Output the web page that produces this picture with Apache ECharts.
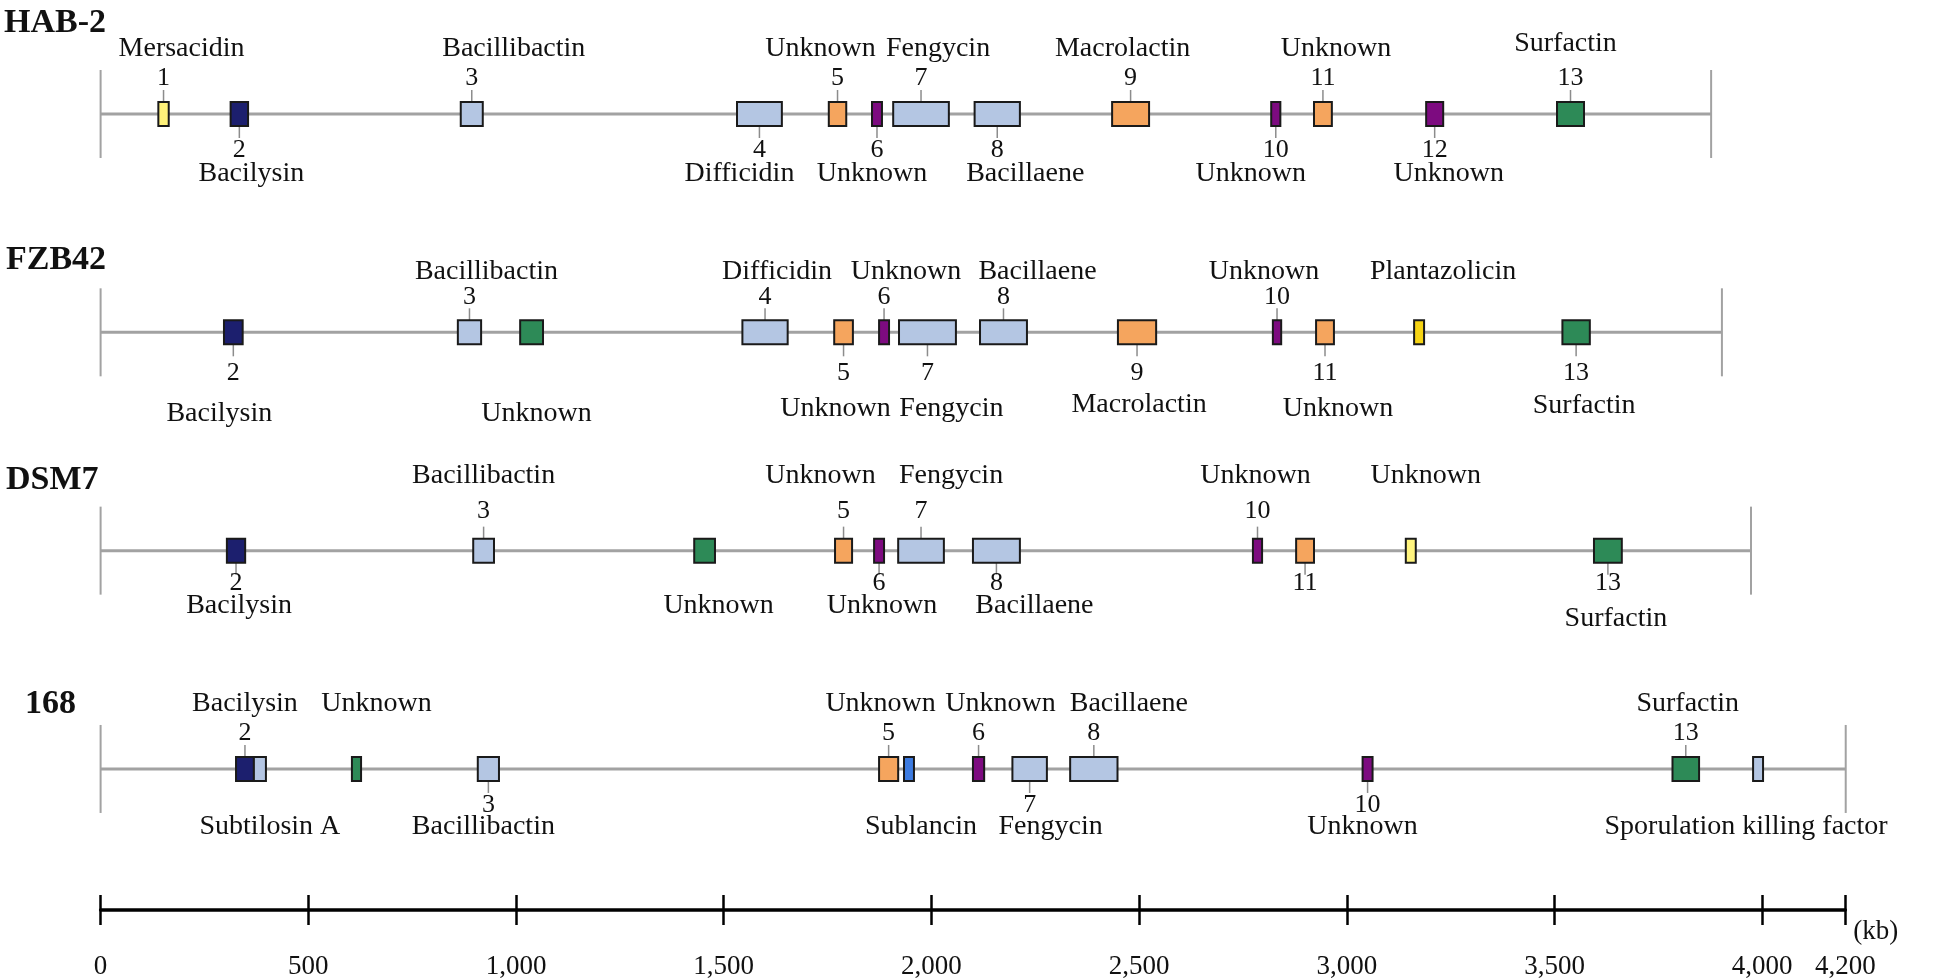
<!DOCTYPE html>
<html>
<head>
<meta charset="utf-8">
<script src="https://cdn.jsdelivr.net/npm/echarts@6/dist/echarts.min.js"></script>
<style>
  html, body { margin: 0; padding: 0; background: #ffffff; }
  #chart { width: 1955px; height: 980px; }
</style>
</head>
<body>
<div id="chart"></div>
<script>
// ---------------- DATA ----------------
const trackNames = ['HAB-2', 'FZB42', 'DSM7', '168'];
const genomeEnd = [3877, 3903, 3973, 4201]; // kb

const axisMax = 4200;
const axisStep = 500;

// HAB-2
const hab2Start = [139, 313, 867, 1532, 1753, 1857, 1908, 2104, 2435, 2818, 2921, 3191, 3506];
const hab2End   = [164, 355, 920, 1640, 1795, 1881, 2042, 2213, 2524, 2840, 2964, 3232, 3571];
const hab2Type  = ['yellow', 'navy', 'steel', 'steel', 'orange', 'purple', 'steel', 'steel', 'orange', 'purple', 'orange', 'purple', 'green'];
const hab2Num   = ['1', '2', '3', '4', '5', '6', '7', '8', '9', '10', '11', '12', '13'];
const hab2Name  = ['Mersacidin', 'Bacilysin', 'Bacillibactin', 'Difficidin', 'Unknown', 'Unknown', 'Fengycin', 'Bacillaene', 'Macrolactin', 'Unknown', 'Unknown', 'Unknown', 'Surfactin'];

// FZB42
const fzbStart = [297, 860, 1010, 1545, 1766, 1874, 1922, 2117, 2449, 2822, 2926, 3162, 3519];
const fzbEnd   = [342, 916, 1065, 1654, 1811, 1898, 2059, 2230, 2541, 2842, 2969, 3186, 3585];
const fzbType  = ['navy', 'steel', 'green', 'steel', 'orange', 'purple', 'steel', 'steel', 'orange', 'purple', 'orange', 'gold', 'green'];
const fzbNum   = ['2', '3', '', '4', '5', '6', '7', '8', '9', '10', '11', '', '13'];
const fzbName  = ['Bacilysin', 'Bacillibactin', 'Unknown', 'Difficidin', 'Unknown', 'Unknown', 'Fengycin', 'Bacillaene', 'Macrolactin', 'Unknown', 'Unknown', 'Plantazolicin', 'Surfactin'];

// DSM7
const dsmStart = [304, 897, 1429, 1768, 1862, 1920, 2100, 2774, 2878, 3142, 3595];
const dsmEnd   = [348, 947, 1479, 1809, 1886, 2030, 2213, 2796, 2921, 3166, 3662];
const dsmType  = ['navy', 'steel', 'green', 'orange', 'purple', 'steel', 'steel', 'purple', 'orange', 'lemon', 'green'];
const dsmNum   = ['2', '3', '', '5', '6', '7', '8', '10', '11', '', '13'];
const dsmName  = ['Bacilysin', 'Bacillibactin', 'Unknown', 'Unknown', 'Unknown', 'Fengycin', 'Bacillaene', 'Unknown', '', 'Unknown', 'Surfactin'];

// 168
const b168Start = [326, 369, 605, 908, 1874, 1934, 2100, 2195, 2334, 3038, 3784, 3978];
const b168End   = [369, 398, 627, 959, 1920, 1958, 2127, 2278, 2448, 3062, 3848, 4002];
const b168Type  = ['navy', 'steel', 'green', 'steel', 'orange', 'blue', 'purple', 'steel', 'steel', 'purple', 'green', 'steel'];
const b168Num   = ['2', '', '', '3', '5', '', '6', '7', '8', '10', '13', ''];
const b168Name  = ['Bacilysin', 'Subtilosin A', 'Unknown', 'Bacillibactin', 'Unknown', 'Sublancin', 'Unknown', 'Fengycin', 'Bacillaene', 'Unknown', 'Surfactin', 'Sporulation killing factor'];

// ---------------- LAYOUT / STYLE ----------------
const T = 'top', B = 'bottom';
const hab2Side = [T, B, T, B, T, B, T, B, T, B, T, B, T];
const hab2NameDx = [18, 12, 42, -20, -17, -5, 17, 28, -8, -25, 13, 14, -5];
const hab2NameDy = [0, 0, 0, 0, 0, 0, 0, 0, 0, 0, 0, 0, -5];
const fzbSide = [B, T, B, T, B, T, B, T, B, T, B, T, B];
const fzbNameDx = [-14, 17, 5, 12, -8, 22, 24, 34, 2, -13, 13, 24, 8];
const fzbNameDy = [5, 0, 5, 0, 0, 0, 0, 0, -4, 0, 0, 0, -3];
const dsmSide = [B, T, B, T, B, T, B, T, B, T, B];
const dsmNameDx = [3, 0, 14, -23, 3, 30, 38, -2, 0, 15, 8];
const dsmNameDy = [0, 0, 0, 0, 0, 0, 0, 0, 0, 0, 13];
const b168Side = [T, B, T, B, T, B, T, B, T, B, T, B];
const b168NameDx = [0, 10, 20, -5, -8, 12, 22, 21, 35, -5, 2, -12];
const b168NameDy = [0, 0, 0, 0, 0, 0, 0, 0, 0, 0, 0, 0];

const rowLayout = [
  { nameTop: -65, numTop: -36, numBot: 36, nameBot: 60 },
  { nameTop: -61, numTop: -35, numBot: 41, nameBot: 76 },
  { nameTop: -75, numTop: -39, numBot: 33, nameBot: 55 },
  { nameTop: -65, numTop: -36, numBot: 36, nameBot: 58 }
];
const titleX = [4, 6, 6, 25];
const titleDy = [-91, -72, -70, -65];

const colors = {
  navy: '#1c1f6e',
  steel: '#b4c6e3',
  orange: '#f5a55e',
  purple: '#7d0b80',
  green: '#2d8a57',
  yellow: '#fff27a',
  gold: '#f6d414',
  lemon: '#fff47e',
  blue: '#3d7be0'
};
const FONT = '"Liberation Serif", "Times New Roman", serif';
const nameFont = '28px ' + FONT;
const numFont = '26px ' + FONT;

const GRID_LEFT = 100.6;
const GRID_WIDTH = 1744.7;

function rowSeries(row, start, end, type, num, name, side, nameDx, nameDy) {
  return {
    type: 'custom',
    xAxisIndex: 0,
    yAxisIndex: 0,
    z: 5,
    silent: true,
    data: start.map((s, i) => [s, end[i], row, i]),
    encode: { x: [0, 1], y: 2 },
    renderItem: function (params, api) {
      const i = api.value(3);
      const p1 = api.coord([api.value(0), row]);
      const p2 = api.coord([api.value(1), row]);
      const L = p1[1];
      const cx = (p1[0] + p2[0]) / 2;
      const lay = rowLayout[row];
      const top = side[i] === 'top';
      const children = [];
      if (num[i]) {
        children.push({
          type: 'line',
          shape: top ? { x1: cx, y1: L - 24, x2: cx, y2: L - 12 } : { x1: cx, y1: L + 12, x2: cx, y2: L + 24 },
          style: { stroke: '#8c8c8c', lineWidth: 1.5 }
        });
        children.push({
          type: 'text',
          style: {
            text: num[i], x: cx, y: L + (top ? lay.numTop : lay.numBot),
            align: 'center', verticalAlign: 'middle', font: numFont, fill: '#111'
          }
        });
      }
      if (name[i]) {
        children.push({
          type: 'text',
          style: {
            text: name[i], x: cx + nameDx[i], y: L + (top ? lay.nameTop : lay.nameBot) + nameDy[i],
            align: 'center', verticalAlign: 'middle', font: nameFont, fill: '#111'
          }
        });
      }
      children.push({
        type: 'rect',
        shape: { x: p1[0], y: L - 12, width: p2[0] - p1[0], height: 24 },
        style: { fill: colors[type[i]], stroke: '#1a1a1a', lineWidth: 2 }
      });
      return { type: 'group', children: children };
    }
  };
}

const trackSeries = {
  type: 'custom',
  xAxisIndex: 0,
  yAxisIndex: 0,
  z: 1,
  silent: true,
  data: genomeEnd.map((e, r) => [0, e, r]),
  encode: { x: [0, 1], y: 2 },
  renderItem: function (params, api) {
    const r = api.value(2);
    const a = api.coord([api.value(0), r]);
    const b = api.coord([api.value(1), r]);
    const L = a[1];
    return {
      type: 'group',
      children: [
        { type: 'line', shape: { x1: a[0], y1: L, x2: b[0], y2: L }, style: { stroke: '#a2a2a2', lineWidth: 3 } },
        { type: 'line', shape: { x1: a[0], y1: L - 44, x2: a[0], y2: L + 44 }, style: { stroke: '#a2a2a2', lineWidth: 2 } },
        { type: 'line', shape: { x1: b[0], y1: L - 44, x2: b[0], y2: L + 44 }, style: { stroke: '#a2a2a2', lineWidth: 2 } },
        {
          type: 'text',
          style: {
            text: trackNames[r], x: titleX[r], y: L + titleDy[r],
            align: 'left', verticalAlign: 'middle',
            font: 'bold 34px ' + FONT, fill: '#111'
          }
        }
      ]
    };
  }
};

const chart = echarts.init(document.getElementById('chart'), null, { renderer: 'canvas' });
chart.setOption({
  animation: false,
  backgroundColor: '#ffffff',
  grid: [
    { left: GRID_LEFT, width: GRID_WIDTH, top: 4.83, height: 873.3 },
    { left: GRID_LEFT, width: GRID_WIDTH, top: 895, height: 42 }
  ],
  xAxis: [
    { gridIndex: 0, type: 'value', min: 0, max: axisMax, show: false },
    {
      gridIndex: 1, type: 'value', min: 0, max: axisMax, interval: axisStep,
      axisLine: { show: true, onZero: true, lineStyle: { color: '#000', width: 3.5 } },
      axisTick: { show: false },
      splitLine: { show: true, lineStyle: { color: '#000', width: 2.5 } },
      axisLabel: {
        margin: 28, fontFamily: FONT, fontSize: 27, color: '#111', lineHeight: 27,
        showMinLabel: true, showMaxLabel: true,
        formatter: function (v) { return v.toLocaleString('en-US'); }
      },
      name: '(kb)', nameLocation: 'end', nameGap: 8,
      nameTextStyle: { fontFamily: FONT, fontSize: 27, color: '#111', verticalAlign: 'top', padding: [8, 0, 0, 0] }
    }
  ],
  yAxis: [
    { gridIndex: 0, type: 'category', data: trackNames, inverse: true, show: false },
    { gridIndex: 1, type: 'value', min: -1, max: 1, show: false }
  ],
  series: [
    trackSeries,
    rowSeries(0, hab2Start, hab2End, hab2Type, hab2Num, hab2Name, hab2Side, hab2NameDx, hab2NameDy),
    rowSeries(1, fzbStart, fzbEnd, fzbType, fzbNum, fzbName, fzbSide, fzbNameDx, fzbNameDy),
    rowSeries(2, dsmStart, dsmEnd, dsmType, dsmNum, dsmName, dsmSide, dsmNameDx, dsmNameDy),
    rowSeries(3, b168Start, b168End, b168Type, b168Num, b168Name, b168Side, b168NameDx, b168NameDy)
  ]
});
</script>
</body>
</html>
